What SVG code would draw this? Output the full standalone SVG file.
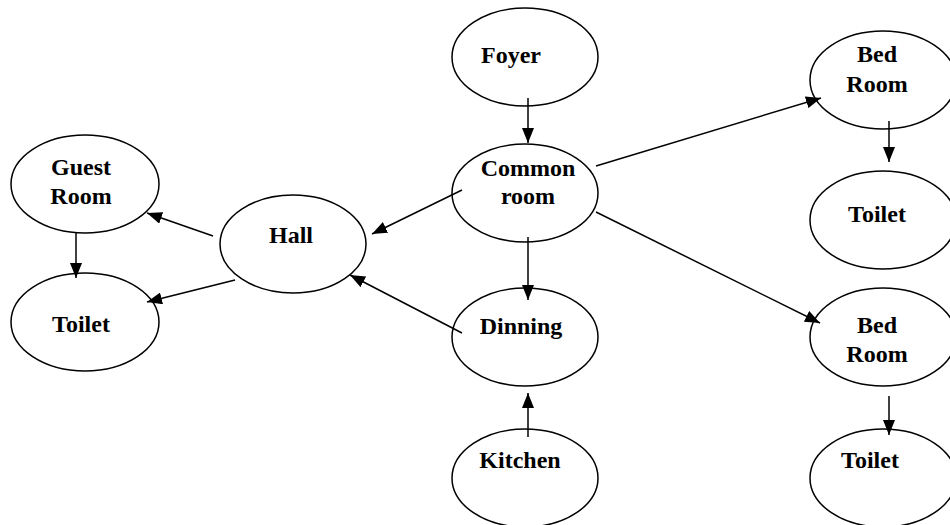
<svg xmlns="http://www.w3.org/2000/svg" width="950" height="525" viewBox="0 0 950 525">
<defs>
<marker id="ah" viewBox="0 0 15 12" refX="15" refY="6" markerWidth="15" markerHeight="12" markerUnits="userSpaceOnUse" orient="auto">
<path d="M0,0 L15,6 L0,12 Z" fill="#000"/>
</marker>
<style>
ellipse{fill:#fff;stroke:#000;stroke-width:1.5}
text{font-family:"Liberation Serif","Times New Roman",serif;font-weight:bold;font-size:24px;fill:#000;text-anchor:middle}
#edges line{stroke:#000;stroke-width:1.5;marker-end:url(#ah)}
</style>
</defs>
<rect width="950" height="525" fill="#fff"/>
<g id="foyer"><ellipse cx="525" cy="57" rx="73" ry="49"/><text x="511" y="63">Foyer</text></g>
<g id="common"><ellipse cx="525" cy="193" rx="73" ry="49"/><text x="528" y="176">Common</text><text x="528" y="204">room</text></g>
<g id="bedroom1"><ellipse cx="883" cy="80" rx="73" ry="49"/><text x="877" y="62">Bed</text><text x="877" y="92">Room</text></g>
<g id="toilet1"><ellipse cx="883" cy="220" rx="73" ry="49"/><text x="877" y="222">Toilet</text></g>
<g id="dinning"><ellipse cx="525" cy="337" rx="73" ry="49"/><text x="521" y="334">Dinning</text></g>
<g id="kitchen"><ellipse cx="525" cy="478" rx="73" ry="49"/><text x="520" y="468">Kitchen</text></g>
<g id="bedroom2"><ellipse cx="883" cy="337" rx="73" ry="49"/><text x="877" y="333">Bed</text><text x="877" y="362">Room</text></g>
<g id="toilet2"><ellipse cx="883" cy="478" rx="73" ry="49"/><text x="870" y="468">Toilet</text></g>
<g id="guestroom"><ellipse cx="85" cy="184" rx="74" ry="49"/><text x="81" y="175">Guest</text><text x="81" y="204">Room</text></g>
<g id="toilet3"><ellipse cx="85" cy="322" rx="74" ry="49"/><text x="81" y="332">Toilet</text></g>
<g id="hall"><ellipse cx="293" cy="244" rx="73" ry="49"/><text x="291" y="243">Hall</text></g>
<g id="edges">
<line x1="528" y1="98" x2="528" y2="143"/>
<line x1="596" y1="166" x2="821" y2="98"/>
<line x1="528" y1="237" x2="528" y2="300"/>
<line x1="596" y1="212" x2="820" y2="323"/>
<line x1="528" y1="437" x2="528" y2="393"/>
<line x1="889" y1="121" x2="889" y2="162"/>
<line x1="889" y1="396" x2="889" y2="435"/>
<line x1="462" y1="190" x2="372" y2="234"/>
<line x1="462" y1="333" x2="350" y2="275"/>
<line x1="213" y1="236" x2="147" y2="213"/>
<line x1="235" y1="280" x2="147" y2="302"/>
<line x1="76" y1="233" x2="76" y2="278"/>
</g>
</svg>
